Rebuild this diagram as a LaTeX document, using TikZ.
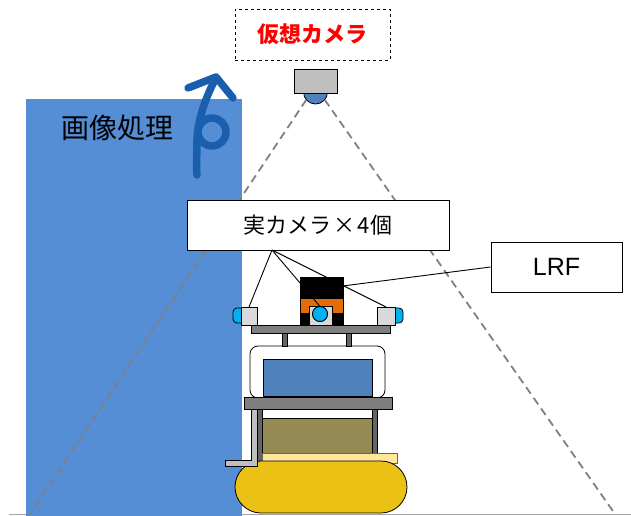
\documentclass[tikz,border=0pt]{standalone}
\usepackage{fontspec}
\setmainfont{Noto Sans CJK JP}
\newfontfamily\latinsans{Liberation Sans}
\usetikzlibrary{calc}
\definecolor{procblue}{HTML}{558ED5}
\definecolor{turnblue}{HTML}{1A5EAE}
\definecolor{lensblue}{HTML}{4F81BD}
\definecolor{capcyan}{HTML}{00B0F0}
\definecolor{camgray}{HTML}{D9D9D9}
\definecolor{vcamgray}{HTML}{BFBFBF}
\definecolor{plategray}{HTML}{7F7F7F}
\definecolor{postgray}{HTML}{656565}
\definecolor{lidorange}{HTML}{E36C09}
\definecolor{olive}{HTML}{948A54}
\definecolor{paleyellow}{HTML}{FFE699}
\definecolor{trackyellow}{HTML}{EBC115}
\definecolor{groundgray}{HTML}{A6A6A6}
\definecolor{fovgray}{HTML}{808080}
\begin{document}
\begin{tikzpicture}[x=1pt,y=-1pt,
  part/.style={draw=black, line width=0.8pt, inner sep=0pt, outer sep=0pt},
  labelbox/.style={draw=black, line width=1pt, fill=white, inner sep=0pt},
  leader/.style={draw=black, line width=0.9pt},
  fov/.style={draw=fovgray, line width=1.8pt, dash pattern=on 8pt off 5pt}]
\useasboundingbox (0,0) rectangle (631,516);

% ground
\coordinate (g1) at (9,514.5);
\coordinate (g2) at (631,514.5);
\draw[groundgray, line width=1.2pt] (g1) -- (g2);

% image processing panel
\node[fill=procblue, inner sep=0pt, minimum width=216, minimum height=417] (proc) at (134,307.5) {};
\node[font=\fontsize{28}{30}\selectfont] (proctext) at (117,128) {画像処理};

% turning arrow
\begin{scope}[turnblue, line width=7.5pt, line cap=round, line join=round]
  \draw (215,80) .. controls (204,100) and (197,125) .. (197,140)
        .. controls (197,155) and (196,165) .. (197,175);
  \draw (212,132) circle (14);
  \draw (188,88) -- (216,77) -- (233,98);
\end{scope}

% field of view of the virtual camera
\node[circle, part, fill=lensblue, minimum size=24] (dome) at (315.5,92) {};
\coordinate (fl) at (30,514);
\coordinate (fr) at (615,514);
\draw[fov] (dome.-140) -- (fl);
\draw[fov] (dome.-40) -- (fr);
\node[part, fill=vcamgray, minimum width=43, minimum height=24] (vcam) at (315.5,81) {};

% labels
\node[labelbox, dashed, line width=0.9pt, minimum width=155, minimum height=51,
      text=red, font=\bfseries\fontsize{22}{24}\selectfont] (vlabel) at (312.5,34.5) {仮想カメラ};
\node[labelbox, minimum width=262, minimum height=50,
      font=\fontsize{22}{24}\selectfont] (real) at (318,225) {実カメラ\kern2pt×\kern2pt4個};
\node[labelbox, minimum width=131, minimum height=50,
      font=\latinsans\fontsize{25}{27}\selectfont] (lrf) at (556.5,267) {LRF};

% robot: lower body
\node[part, fill=postgray, minimum width=5, minimum height=53] (lpost) at (259.5,435.5) {};
\node[part, fill=postgray, minimum width=5, minimum height=53] (rpost) at (374.5,435.5) {};
\node[part, fill=olive, minimum width=110, minimum height=35] (battery) at (317,435.5) {};
\node[part, draw=black!60, line width=0.6pt, fill=paleyellow, minimum width=135, minimum height=10] (base) at (329.5,458) {};
\node[part, fill=trackyellow, rounded corners=26, minimum width=172, minimum height=52] (track) at (321,487) {};
\draw[part, fill=vcamgray] (251,409) -- (257,409) -- (257,466) -- (225,466) -- (225,460) -- (251,460) -- cycle;

% robot: upper body
\node[part, fill=white, rounded corners=8, minimum width=135, minimum height=52] (frame) at (317.5,372) {};
\node[part, fill=lensblue, minimum width=109, minimum height=37] (screen) at (317.5,377.5) {};
\node[part, fill=plategray, minimum width=148, minimum height=12] (midplate) at (318,403) {};
\node[part, fill=postgray, minimum width=5, minimum height=14] (post1) at (285,339.5) {};
\node[part, fill=postgray, minimum width=5, minimum height=14] (post2) at (348.5,339.5) {};
\node[part, fill=plategray, minimum width=139, minimum height=8] (topplate) at (320.5,329) {};

% sensors on top
\node[part, fill=capcyan, rounded corners=4, minimum width=14, minimum height=15] (lcap) at (240,315.5) {};
\node[part, fill=camgray, minimum width=16, minimum height=18] (lcam) at (249,316) {};
\node[part, fill=capcyan, rounded corners=4, minimum width=14, minimum height=15] (rcap) at (396,315.5) {};
\node[part, fill=camgray, minimum width=18, minimum height=18] (rcam) at (386,316) {};
\node[part, fill=black, minimum width=43, minimum height=48] (lrfbody) at (321.5,301) {};
\node[part, fill=lidorange, minimum width=43, minimum height=15] (lrfband) at (321.5,305.5) {};
\node[part, fill=camgray, minimum width=23, minimum height=19] (ccam) at (320.5,315.5) {};

% leader lines
\coordinate (hub) at (272,250);
\draw[leader] (hub) -- (lcam.north);
\draw[leader] (hub) -- (rcam.north);
\node[circle, part, fill=capcyan, minimum size=15] (clens) at (320,314) {};
\draw[leader] (hub) -- (clens.north);
\node[circle, part, fill=capcyan, minimum size=15] at (320,314) {};
\draw[leader] (lrf.west) -- (lrfbody.35);
\end{tikzpicture}
\end{document}
